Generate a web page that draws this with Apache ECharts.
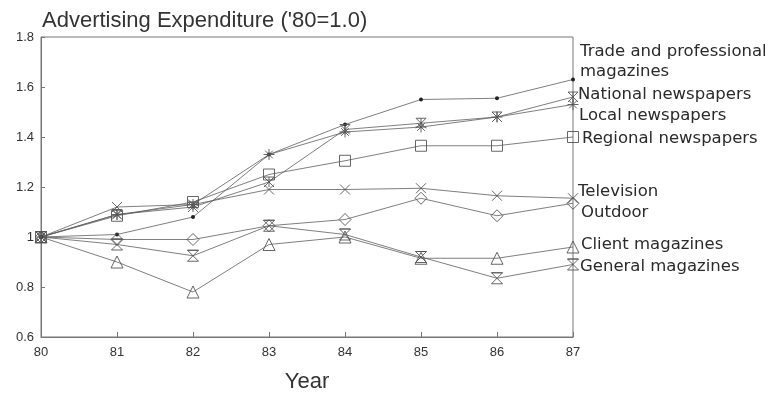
<!DOCTYPE html>
<html>
<head>
<meta charset="utf-8">
<script src="https://cdn.jsdelivr.net/npm/echarts@6/dist/echarts.min.js"></script>
<style>html,body{margin:0;padding:0;background:#fff;}#c{width:782px;height:393px;}</style>
</head>
<body>
<div id="c"></div>
<script>
const years = [80, 81, 82, 83, 84, 85, 86, 87];
const yTicks = [0.6, 0.8, 1.0, 1.2, 1.4, 1.6, 1.8];
const trade    = [1.0, 1.01, 1.08, 1.33, 1.45, 1.55, 1.555, 1.63];
const national = [1.0, 1.09, 1.12, 1.22, 1.43, 1.455, 1.48, 1.56];
const local    = [1.0, 1.09, 1.13, 1.33, 1.42, 1.44, 1.48, 1.53];
const regional = [1.0, 1.085, 1.14, 1.25, 1.305, 1.365, 1.365, 1.40];
const television = [1.0, 1.12, 1.13, 1.19, 1.19, 1.195, 1.165, 1.155];
const outdoor  = [1.0, 0.99, 0.99, 1.045, 1.07, 1.155, 1.085, 1.135];
const client   = [1.0, 0.90, 0.78, 0.97, 1.0, 0.915, 0.915, 0.96];
const general  = [1.0, 0.97, 0.925, 1.045, 1.01, 0.92, 0.835, 0.89];

const seriesDefs = [
  {name: 'Trade and professional\nmagazines', data: trade, symbol: 'circle', size: 4, filled: true, off: [-1, -18]},
  {name: 'National newspapers', data: national, symbol: 'path://M0,0 L10,0 L5,5 Z M5,5 L0,10 M5,5 L10,10 M5,0 L5,10', size: 10, off: [-3, -2]},
  {name: 'Local newspapers', data: local, symbol: 'path://M0,5 L10,5 M5,0 L5,10 M1.5,1.5 L8.5,8.5 M8.5,1.5 L1.5,8.5', size: 11, off: [-2, 11]},
  {name: 'Regional newspapers', data: regional, symbol: 'rect', size: 11, off: [1, 2]},
  {name: 'Television', data: television, symbol: 'path://M0,0 L10,10 M10,0 L0,10', size: 10, off: [-3, -7]},
  {name: 'Outdoor', data: outdoor, symbol: 'path://M5,0 L10,5 L5,10 L0,5 Z', size: 12, off: [0, 9]},
  {name: 'Client magazines', data: client, symbol: 'triangle', size: 12, off: [0, -2]},
  {name: 'General magazines', data: general, symbol: 'path://M0,0 L10,0 L0,10 L10,10 Z M0,0 L10,0', size: 11, off: [-1, 2]}
];

const lineColor = '#5e5e5e';
const series = seriesDefs.map(d => ({
  name: d.name,
  type: 'line',
  data: years.map((y, i) => [y, d.data[i]]),
  symbol: d.symbol,
  symbolSize: d.size,
  showAllSymbol: true,
  lineStyle: {color: lineColor, width: 0.8},
  itemStyle: d.filled ? {color: '#222', borderColor: '#222', borderWidth: 0} : {color: 'rgba(255,255,255,0)', borderColor: '#555', borderWidth: 0.9},
  emphasis: {disabled: true},
  animation: false,
  endLabel: {
    show: true,
    offset: d.off,
    color: '#2a2a2a',
    fontSize: 16.5,
    lineHeight: 20,
    fontFamily: 'DejaVu Sans, Liberation Sans, Arial, sans-serif',
    formatter: () => d.name
  }
}));

const chart = echarts.init(document.getElementById('c'), null, {renderer: 'canvas'});
chart.setOption({
  backgroundColor: '#fff',
  animation: false,
  title: {
    text: "Advertising Expenditure ('80=1.0)",
    left: 37, top: 5,
    textStyle: {fontSize: 22, fontWeight: 'normal', color: '#333', fontFamily: 'Liberation Sans, Arial, sans-serif'}
  },
  grid: {left: 41, right: 209, top: 37, bottom: 56, outerBoundsMode: 'none', containLabel: false,
    show: true, borderColor: '#777', borderWidth: 1, backgroundColor: 'transparent'},
  xAxis: {
    type: 'value', min: 80, max: 87, interval: 1,
    name: 'Year', nameLocation: 'middle', nameGap: 34,
    nameTextStyle: {fontSize: 22, color: '#333', fontFamily: 'Liberation Sans Narrow, Liberation Sans, Arial, sans-serif'},
    axisLine: {lineStyle: {color: '#777'}},
    axisTick: {inside: true, length: 5, lineStyle: {color: '#777'}},
    axisLabel: {color: '#333', fontSize: 13, margin: 9, fontFamily: 'Liberation Sans Narrow, Liberation Sans, Arial, sans-serif'},
    splitLine: {show: false}
  },
  yAxis: {
    type: 'value', min: yTicks[0], max: yTicks[yTicks.length - 1], interval: 0.2,
    axisLine: {show: true, lineStyle: {color: '#777'}},
    axisTick: {show: true, inside: true, length: 4, lineStyle: {color: '#777'}},
    axisLabel: {color: '#333', fontSize: 13, margin: 7, fontFamily: 'Liberation Sans, Arial, sans-serif',
      formatter: v => (Math.round(v * 10) / 10 === 1 ? '1' : (Math.round(v * 10) / 10).toFixed(1))},
    splitLine: {show: false}
  },
  series: series
});
</script>
</body>
</html>
